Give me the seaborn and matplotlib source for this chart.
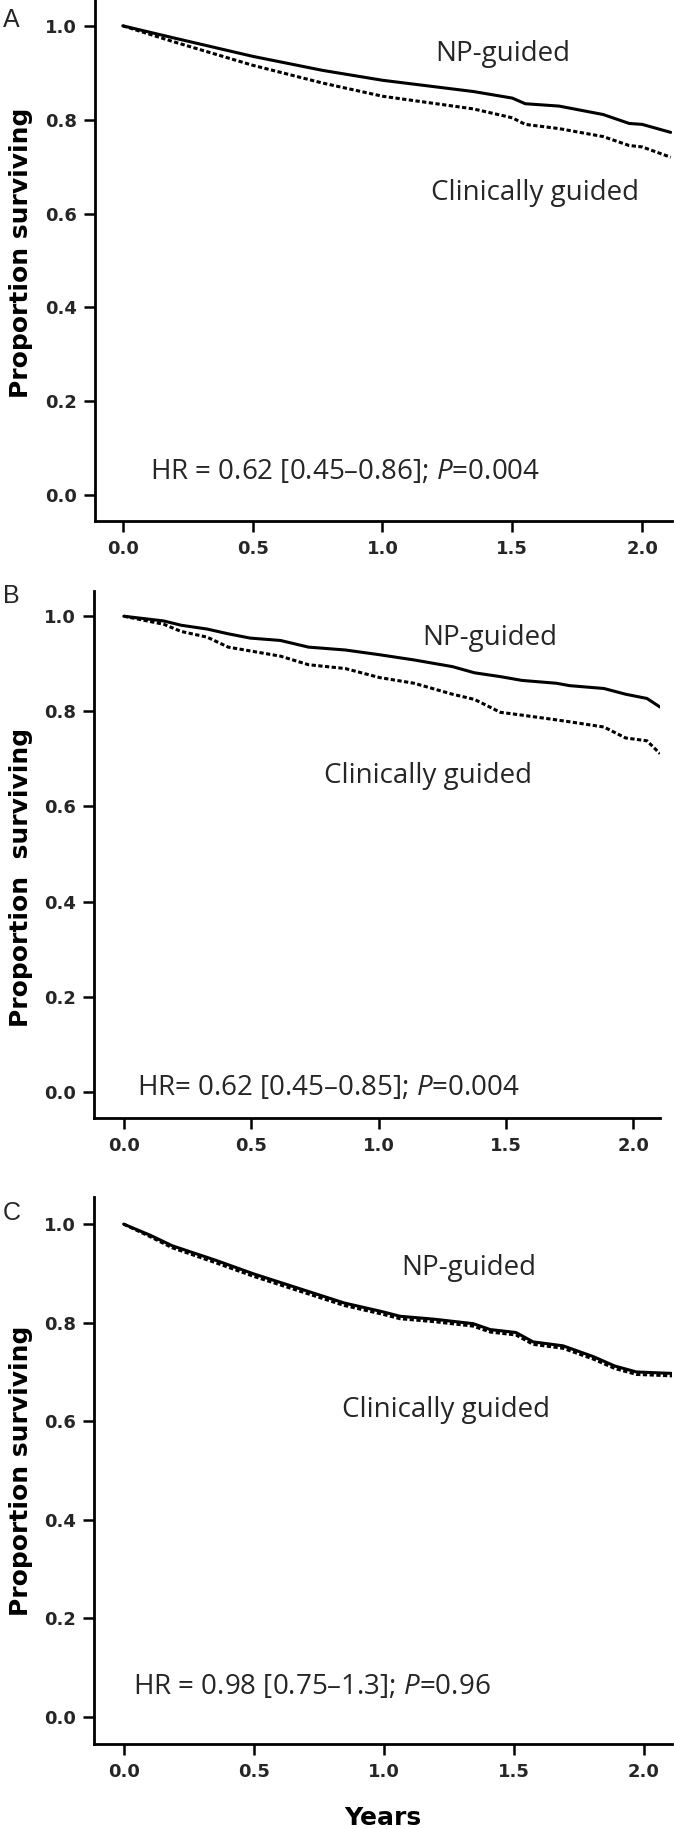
import numpy as np
import pandas as pd
import seaborn as sns
import matplotlib.pyplot as plt

# values (years, proportion surviving)
years_a = [0.0, 0.19, 0.5, 0.77, 1.0, 1.35, 1.5, 1.55, 1.68, 1.85, 1.95, 2.0, 2.11]
np_a = [1.0, 0.975, 0.935, 0.905, 0.884, 0.860, 0.846, 0.834, 0.829, 0.811, 0.792, 0.790, 0.773]
clin_a = [1.0, 0.967, 0.916, 0.878, 0.850, 0.823, 0.804, 0.790, 0.781, 0.764, 0.745, 0.742, 0.720]

years_b = [0.0, 0.157, 0.225, 0.327, 0.41, 0.496, 0.615, 0.725, 0.869, 1.004, 1.14, 1.29,
           1.377, 1.478, 1.563, 1.699, 1.75, 1.885, 1.97, 2.054, 2.105]
np_b = [1.0, 0.990, 0.981, 0.973, 0.963, 0.954, 0.949, 0.935, 0.929, 0.919, 0.908, 0.894,
        0.881, 0.873, 0.865, 0.859, 0.854, 0.848, 0.836, 0.827, 0.809]
clin_b = [1.0, 0.983, 0.968, 0.956, 0.935, 0.927, 0.916, 0.898, 0.890, 0.871, 0.859, 0.836,
          0.825, 0.798, 0.792, 0.782, 0.778, 0.767, 0.744, 0.738, 0.711]

years_c = [0.0, 0.104, 0.187, 0.352, 0.5, 0.683, 0.848, 0.997, 1.063, 1.195, 1.344, 1.41,
           1.509, 1.575, 1.69, 1.807, 1.889, 1.972, 2.11]
np_c = [1.0, 0.977, 0.956, 0.927, 0.899, 0.868, 0.840, 0.822, 0.813, 0.807, 0.798, 0.786,
        0.780, 0.761, 0.753, 0.731, 0.712, 0.700, 0.697]
clin_c = [1.0, 0.974, 0.952, 0.922, 0.894, 0.863, 0.835, 0.817, 0.808, 0.802, 0.793, 0.781,
          0.775, 0.756, 0.748, 0.726, 0.707, 0.695, 0.692]

hr_texts = [r"HR = 0.62 [0.45–0.86]; $\it{P}$=0.004",
            r"HR= 0.62 [0.45–0.85]; $\it{P}$=0.004",
            r"HR = 0.98 [0.75–1.3]; $\it{P}$=0.96"]
panel_labels = ["A", "B", "C"]
x_ticks = [0.0, 0.5, 1.0, 1.5, 2.0]
y_ticks = [0.0, 0.2, 0.4, 0.6, 0.8, 1.0]

sns.set_theme(style="white")
plt.rcParams["font.family"] = ["DejaVu Sans"]
plt.rcParams["mathtext.fontset"] = "custom"
plt.rcParams["mathtext.rm"] = "Open Sans"
plt.rcParams["mathtext.it"] = "Open Sans:italic"

W, H = 674, 1829
fig = plt.figure(figsize=(W / 100, H / 100), dpi=100)

# pixel boxes of each panel: left, right, top, bottom
boxes = [(95, 672, 0, 521), (94, 660, 591, 1117.5), (94, 672, 1197, 1744)]
xlims = [(-0.107, 2.115), (-0.117, 2.105), (-0.114, 2.109)]
ylims = [(-0.055, 1.055), (-0.054, 1.053), (-0.055, 1.055)]
series = [(years_a, np_a, clin_a), (years_b, np_b, clin_b), (years_c, np_c, clin_c)]
np_pos = [(1.203, 0.941), (1.172, 0.955), (1.066, 0.91)]
clin_pos = [(1.187, 0.644), (0.787, 0.665), (0.84, 0.622)]
hr_pos = [(0.104, 0.05), (0.052, 0.008), (0.035, 0.06)]
ylab_y = [0.515, 0.456, 0.5]
ylabels = ["Proportion surviving", "Proportion  surviving", "Proportion surviving"]
label_base = [27, 603, 1220]

for i in range(3):
    l, r, t, b = boxes[i]
    ax = fig.add_axes([l / W, 1 - b / H, (r - l) / W, (b - t) / H])
    yrs, npv, clv = series[i]
    df = pd.DataFrame({"years": yrs, "np": npv, "clin": clv})
    sns.lineplot(data=df, x="years", y="clin", ax=ax, color="black",
                 linewidth=2.2, linestyle=(0, (1.4, 0.8)))
    sns.lineplot(data=df, x="years", y="np", ax=ax, color="black", linewidth=2.2)

    ax.set_xlim(*xlims[i])
    ax.set_ylim(*ylims[i])
    ax.set_xticks(x_ticks)
    ax.set_yticks(y_ticks)
    ax.set_xticklabels([f"{v:.1f}" for v in x_ticks])
    ax.set_yticklabels([f"{v:.1f}" for v in y_ticks])
    ax.tick_params(axis="both", direction="out", length=8, width=1.8,
                   labelsize=13, color="black", bottom=True, left=True)
    ax.tick_params(axis="y", pad=5)
    ax.tick_params(axis="x", pad=6)
    for lab in ax.get_xticklabels() + ax.get_yticklabels():
        lab.set_fontweight("bold")
    for s in ["top", "right"]:
        ax.spines[s].set_visible(False)
    for s in ["left", "bottom"]:
        ax.spines[s].set_linewidth(2.0)
        ax.spines[s].set_color("black")

    ax.set_ylabel(ylabels[i], fontsize=18, fontweight="bold", color="black")
    ax.yaxis.set_label_coords((33 - l) / (r - l), ylab_y[i])
    if i == 2:
        ax.set_xlabel("Years", fontsize=18, fontweight="bold", color="black", va="top")
        ax.xaxis.set_label_coords(0.5, (b - 1806) / (b - t))
    else:
        ax.set_xlabel("")

    ax.text(*np_pos[i], "NP-guided", fontsize=20, family="Open Sans", va="center", ha="left")
    ax.text(*clin_pos[i], "Clinically guided", fontsize=20, family="Open Sans", va="center", ha="left")
    ax.text(*hr_pos[i], hr_texts[i], fontsize=20, family="Open Sans", va="center", ha="left")

    fig.text(3 / W, 1 - label_base[i] / H, panel_labels[i], fontsize=18,
             family="Liberation Sans", ha="left", va="baseline")

fig.savefig("out.png", dpi=100)
